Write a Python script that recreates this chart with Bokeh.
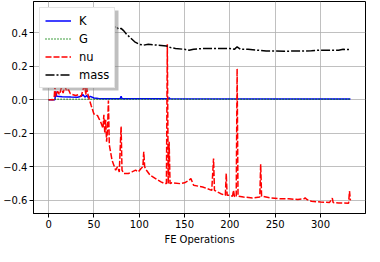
from bokeh.plotting import figure
from bokeh.models import (FixedTicker, CustomJSTickFormatter, Range1d, Legend,
                          LegendItem, BoxAnnotation)
from bokeh.embed import file_html
from bokeh.resources import INLINE

# ---- data ----
k_x = [0, 7, 8, 9, 15, 25, 32, 36, 38, 40, 42, 44, 46, 50, 55, 60, 79, 80, 81, 132, 133, 134, 333]
k_y = [0.0, 0.0, 0.05, 0.02, 0.018, 0.016, 0.015, 0.02, 0.03, 0.015, 0.025, 0.012, 0.02, 0.01,
       0.007, 0.005, 0.005, 0.02, 0.005, 0.005, 0.012, 0.005, 0.004]

g_x = [0, 8, 50, 333]
g_y = [0.0, 0.003, 0.002, 0.002]

nu_x = [0, 6, 7, 8, 10, 12, 14, 16, 18, 20,
        22, 24, 27, 30, 33, 36, 38, 40, 41, 42,
        43, 45, 47, 50, 54, 58, 60, 61, 62, 63,
        64, 65, 66, 67, 68, 70, 72, 74, 76, 78,
        80, 81, 83, 88, 92, 96, 99, 102, 104, 105,
        106, 108, 112, 118, 124, 128, 130, 131, 132, 133,
        134, 136, 145, 150, 155, 157, 160, 170, 180, 182,
        183, 190, 195, 196, 197, 200, 203, 204, 205, 207,
        208, 209, 215, 225, 233, 234, 235, 245, 255, 265,
        275, 282, 283, 285, 290, 300, 310, 313, 314, 320,
        331, 332, 333]
nu_y = [0.0, 0.0, 0.08, 0.02, 0.05, 0.03, 0.07, 0.04, 0.08, 0.05,
        0.06, 0.035, 0.03, 0.025, 0.03, 0.02, 0.06, 0.09, 0.03, 0.08,
        0.04, 0.0, -0.035, -0.085, -0.095, -0.14, -0.17, -0.09, -0.2, -0.12,
        -0.25, -0.18, -0.005, -0.27, -0.3, -0.36, -0.39, -0.42, -0.40, -0.43,
        -0.16, -0.42, -0.44, -0.44, -0.43, -0.42, -0.43, -0.41, -0.40, -0.31,
        -0.40, -0.42, -0.45, -0.47, -0.49, -0.50, -0.50, 0.33, -0.50, -0.25,
        -0.50, -0.495, -0.50, -0.495, -0.48, -0.47, -0.51, -0.52, -0.54, -0.35,
        -0.54, -0.56, -0.57, -0.44, -0.57, -0.57, -0.575, -0.54, -0.575, -0.58,
        0.185, -0.575, -0.58, -0.585, -0.58, -0.385, -0.575, -0.585, -0.59, -0.59,
        -0.595, -0.59, -0.585, -0.595, -0.605, -0.61, -0.612, -0.587, -0.613, -0.615,
        -0.617, -0.545, -0.60]

mass_x = [0, 10, 20, 30, 40, 50, 60, 70, 75, 77,
          80, 83, 86, 90, 95, 100, 105, 110, 120, 130,
          135, 140, 150, 155, 160, 170, 180, 190, 200, 205,
          208, 212, 220, 230, 240, 250, 260, 270, 280, 290,
          300, 310, 320, 325, 333]
mass_y = [0.525, 0.51, 0.495, 0.48, 0.465, 0.45, 0.44, 0.43, 0.435, 0.42,
          0.425, 0.41, 0.39, 0.37, 0.345, 0.33, 0.325, 0.33, 0.325, 0.32,
          0.31, 0.305, 0.30, 0.295, 0.30, 0.305, 0.305, 0.305, 0.305, 0.30,
          0.315, 0.30, 0.30, 0.295, 0.29, 0.29, 0.288, 0.29, 0.29, 0.292,
          0.295, 0.295, 0.295, 0.30, 0.298]

x_ticks = [0, 50, 100, 150, 200, 250, 300]
y_ticks = [-0.6, -0.4, -0.2, 0.0, 0.2, 0.4]
x_label = "FE Operations"

FONT = "DejaVu Sans"
FRAME_W = 332
FRAME_H = 212
LEG_MARGIN = 6
LEG_W = 76
LEG_H = 80
SHADOW = 3

p = figure(frame_width=FRAME_W, frame_height=FRAME_H, output_backend="svg",
           toolbar_location=None,
           x_range=Range1d(-16.65, 349.65), y_range=Range1d(-0.678, 0.585),
           min_border_left=31, min_border_right=1, min_border_top=1, min_border_bottom=30)

p.outline_line_color = "black"
p.outline_line_width = 1
p.background_fill_color = "white"
p.border_fill_color = "white"

for ax in (p.xaxis[0], p.yaxis[0]):
    ax.axis_line_color = "black"
    ax.major_tick_line_color = "black"
    ax.major_tick_out = 4
    ax.major_tick_in = 0
    ax.minor_tick_line_color = None
    ax.major_label_text_font = FONT
    ax.major_label_text_font_size = "10px"
    ax.major_label_text_color = "black"
    ax.major_label_standoff = 2

p.xaxis.ticker = FixedTicker(ticks=x_ticks)
p.yaxis.ticker = FixedTicker(ticks=y_ticks)
p.yaxis.formatter = CustomJSTickFormatter(code="return tick.toFixed(1).replace('-', '\u2212');")
p.xaxis.axis_label = x_label
p.xaxis.axis_label_text_font = FONT
p.xaxis.axis_label_text_font_size = "10px"
p.xaxis.axis_label_text_font_style = "normal"
p.xaxis.axis_label_text_color = "black"
p.xaxis.axis_label_standoff = 3

p.grid.grid_line_color = "#b0b0b0"
p.grid.grid_line_width = 0.8

rk = p.line(k_x, k_y, line_color="#0000ff", line_width=1.5)
rg = p.line(g_x, g_y, line_color="#008000", line_width=1.5, line_dash="1 2")
rn = p.line(nu_x, nu_y, line_color="#ff0000", line_width=1.5, line_dash="6 2")
rm = p.line(mass_x, mass_y, line_color="#000000", line_width=1.5, line_dash="9 2 2 2")

# legend shadow (frame-relative screen units, y measured upward from the frame bottom)
shadow = BoxAnnotation(left=LEG_MARGIN + SHADOW, right=LEG_MARGIN + LEG_W + SHADOW,
                       top=FRAME_H - LEG_MARGIN - SHADOW,
                       bottom=FRAME_H - LEG_MARGIN - LEG_H - SHADOW,
                       left_units="screen", right_units="screen",
                       top_units="screen", bottom_units="screen",
                       fill_color="#808080", fill_alpha=0.5, line_color=None)
p.add_layout(shadow)

legend = Legend(items=[LegendItem(label="K", renderers=[rk]),
                       LegendItem(label="G", renderers=[rg]),
                       LegendItem(label="nu", renderers=[rn]),
                       LegendItem(label="mass", renderers=[rm])],
                location="top_left", margin=LEG_MARGIN, padding=5, spacing=3,
                glyph_width=26, glyph_height=15, label_height=15,
                label_standoff=8,
                label_text_font=FONT, label_text_font_size="11.5px",
                label_text_color="black",
                border_line_color="#cccccc", border_line_width=1,
                background_fill_color="white", background_fill_alpha=1.0)
p.add_layout(legend, "center")

open("out.html", "w").write(file_html(p, INLINE))
